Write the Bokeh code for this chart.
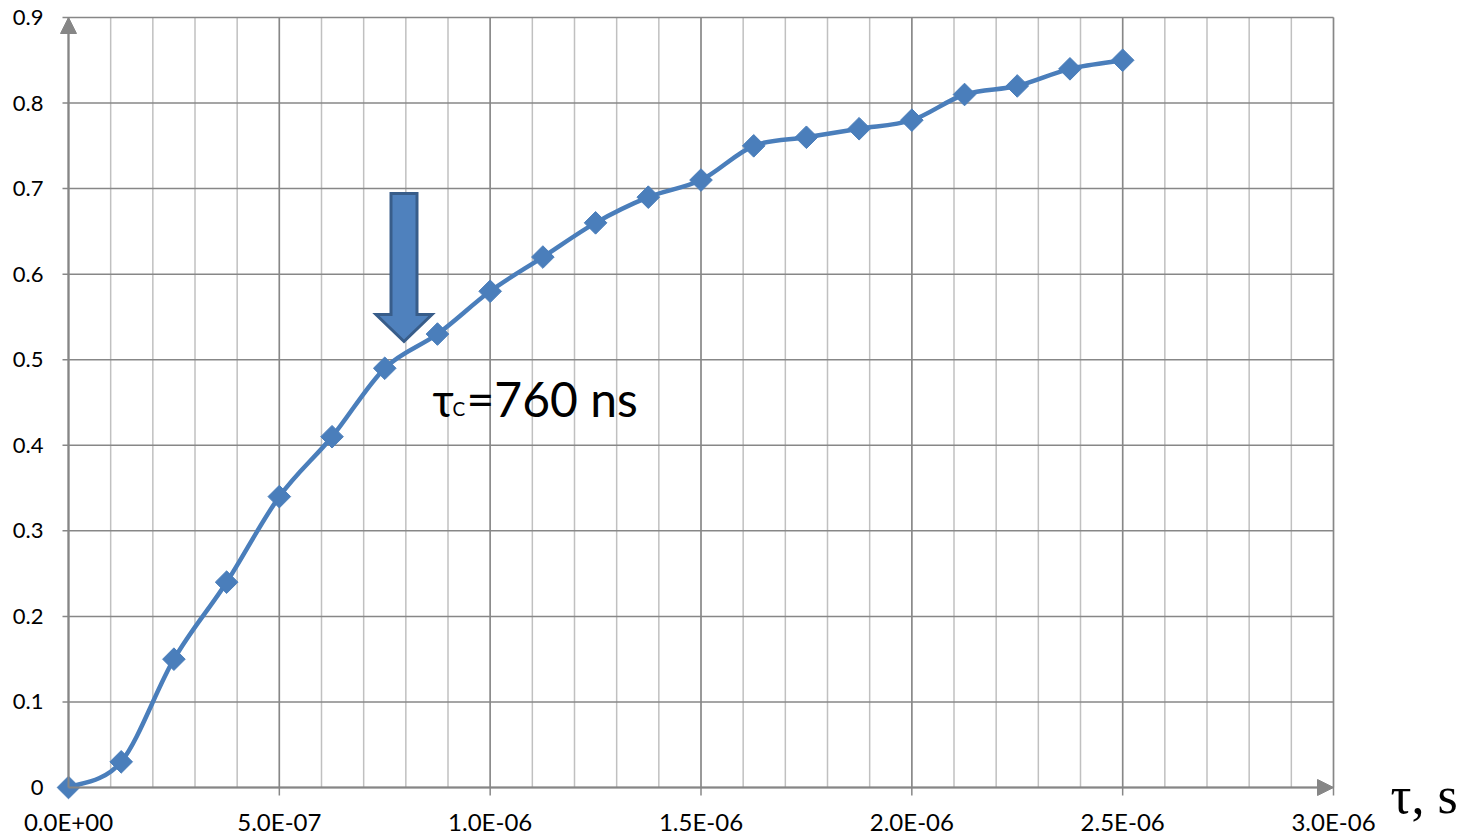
from bokeh.plotting import figure
from bokeh.models import Arrow, NormalHead, Range1d, ColumnDataSource
from bokeh.core.properties import value
from bokeh.embed import file_html
from bokeh.resources import INLINE
import math

# ---- data ----
tau_s = [0.0, 1.25e-7, 2.5e-7, 3.75e-7, 5.0e-7, 6.25e-7, 7.5e-7, 8.75e-7,
         1.0e-6, 1.125e-6, 1.25e-6, 1.375e-6, 1.5e-6, 1.625e-6, 1.75e-6,
         1.875e-6, 2.0e-6, 2.125e-6, 2.25e-6, 2.375e-6, 2.5e-6]
response = [0.0, 0.03, 0.15, 0.24, 0.34, 0.41, 0.49, 0.53, 0.58, 0.62, 0.66,
            0.69, 0.71, 0.75, 0.76, 0.77, 0.78, 0.81, 0.82, 0.84, 0.85]

x_ticks = [0.0, 5.0e-7, 1.0e-6, 1.5e-6, 2.0e-6, 2.5e-6, 3.0e-6]
x_tick_labels = ["0.0E+00", "5.0E-07", "1.0E-06", "1.5E-06", "2.0E-06", "2.5E-06", "3.0E-06"]
y_ticks = [0.0, 0.1, 0.2, 0.3, 0.4, 0.5, 0.6, 0.7, 0.8, 0.9]
y_tick_labels = ["0", "0.1", "0.2", "0.3", "0.4", "0.5", "0.6", "0.7", "0.8", "0.9"]
x_minor_step = 1e-7

tau_c_label = "=760 ns"
x_axis_title = "τ, s"

# ---- geometry / style ----
BLUE = "#4A7EBB"
GRID_MAJOR = "#878787"
GRID_MINOR = "#c0c0c0"
AXIS = "#868686"
W, H = 1475, 835
X_MAX, Y_MAX = 3.0e-6, 0.9
LEFT_PX, BOTTOM_PX, RIGHT_PX, TOP_PX = 68, 787, 1333, 17
PX_X = X_MAX / (RIGHT_PX - LEFT_PX)     # data units per pixel
PX_Y = Y_MAX / (BOTTOM_PX - TOP_PX)
K = 0.355  # text anchor sits at about the cap middle; shift up by K*size for a baseline

p = figure(width=W, height=H, output_backend="svg", toolbar_location=None,
           x_axis_location=None, y_axis_location=None,
           x_range=Range1d(-LEFT_PX * PX_X, (W - LEFT_PX) * PX_X),
           y_range=Range1d(-(H - BOTTOM_PX) * PX_Y, BOTTOM_PX * PX_Y),
           min_border=0)
p.outline_line_color = None
p.background_fill_color = "white"
p.border_fill_color = "white"
p.xgrid.visible = False
p.ygrid.visible = False

# ---- grid (with tick stubs beyond the axes) ----
n_minor = int(round(X_MAX / x_minor_step)) + 1
x_minor = [i * x_minor_step for i in range(n_minor)]
p.segment(x0=x_minor, y0=[0] * n_minor, x1=x_minor, y1=[Y_MAX] * n_minor,
          line_color=GRID_MINOR, line_width=1.5)
p.segment(x0=x_ticks, y0=[-8 * PX_Y] * len(x_ticks), x1=x_ticks, y1=[Y_MAX] * len(x_ticks),
          line_color=GRID_MAJOR, line_width=1.5)
p.segment(x0=[-6 * PX_X] * len(y_ticks), y0=y_ticks, x1=[X_MAX] * len(y_ticks), y1=y_ticks,
          line_color=GRID_MAJOR, line_width=1.5)

# ---- tick labels ----
p.text(x=[0] * len(y_ticks), y=y_ticks, text=y_tick_labels, x_offset=-25, y_offset=0,
       text_align="right", text_baseline="alphabetic", text_font=value("Lato"),
       text_font_size="22px", text_color="black")
p.text(x=x_ticks, y=[0] * len(x_ticks), text=x_tick_labels, y_offset=43 - K * 24,
       text_align="center", text_baseline="alphabetic", text_font=value("Lato"),
       text_font_size="24px", text_color="black")

# ---- axes with arrow heads ----
p.add_layout(Arrow(end=NormalHead(size=16, fill_color=AXIS, line_color=AXIS),
                   x_start=0, y_start=0, x_end=0, y_end=Y_MAX,
                   line_color=AXIS, line_width=2))
p.add_layout(Arrow(end=NormalHead(size=16, fill_color=AXIS, line_color=AXIS),
                   x_start=0, y_start=0, x_end=X_MAX, y_end=0,
                   line_color=AXIS, line_width=2))

# ---- smoothed curve (Catmull-Rom -> cubic Bezier through the data points) ----
n = len(tau_s)
x0s, y0s, x1s, y1s, cx0s, cy0s, cx1s, cy1s = [], [], [], [], [], [], [], []
for i in range(n - 1):
    im1 = max(i - 1, 0)
    ip2 = min(i + 2, n - 1)
    x0s.append(tau_s[i]); y0s.append(response[i])
    x1s.append(tau_s[i + 1]); y1s.append(response[i + 1])
    cx0s.append(tau_s[i] + (tau_s[i + 1] - tau_s[im1]) / 6.0)
    cy0s.append(response[i] + (response[i + 1] - response[im1]) / 6.0)
    cx1s.append(tau_s[i + 1] - (tau_s[ip2] - tau_s[i]) / 6.0)
    cy1s.append(response[i + 1] - (response[ip2] - response[i]) / 6.0)
p.bezier(x0=x0s, y0=y0s, x1=x1s, y1=y1s, cx0=cx0s, cy0=cy0s, cx1=cx1s, cy1=cy1s,
         line_color=BLUE, line_width=4.5, line_cap="round")

src = ColumnDataSource(dict(x=tau_s, y=response))
p.scatter("x", "y", source=src, marker="square", size=16, angle=math.pi / 4,
          fill_color=BLUE, line_color=BLUE)

# ---- block arrow annotation ----
ax_c = (403.5 - LEFT_PX) * PX_X
shaft_hw = 13 * PX_X
head_hw = 28 * PX_X
y_top = (BOTTOM_PX - 193) * PX_Y
y_base = (BOTTOM_PX - 314) * PX_Y
y_tip = (BOTTOM_PX - 341) * PX_Y
p.patch([ax_c - shaft_hw, ax_c + shaft_hw, ax_c + shaft_hw, ax_c + head_hw, ax_c,
         ax_c - head_hw, ax_c - shaft_hw],
        [y_top, y_top, y_base, y_base, y_tip, y_base, y_base],
        fill_color="#4F81BD", line_color="#385D8A", line_width=3, line_join="miter")

# ---- tau_c text (baseline at 415 px) ----
tx = (432 - LEFT_PX) * PX_X
ty = (BOTTOM_PX - 415) * PX_Y
p.text(x=[tx], y=[ty], text=["τ"], y_offset=-K * 46, text_font=value("Lato"),
       text_font_size="46px", text_baseline="alphabetic", text_align="left", text_color="black")
p.text(x=[tx], y=[ty], text=["C"], x_offset=20, y_offset=-K * 19, text_font=value("Lato"),
       text_font_size="19px", text_baseline="alphabetic", text_align="left", text_color="black")
p.text(x=[tx], y=[ty], text=[tau_c_label], x_offset=34, y_offset=-K * 48,
       text_font=value("Lato"), text_font_size="48px", text_baseline="alphabetic",
       text_align="left", text_color="black")

# ---- x-axis title at bottom right (baseline at 813 px) ----
p.text(x=[(1390 - LEFT_PX) * PX_X], y=[(BOTTOM_PX - 813) * PX_Y], text=[x_axis_title],
       y_offset=-K * 52, text_font=value("Liberation Serif"), text_font_size="52px",
       text_baseline="alphabetic", text_align="left", text_color="black")

open("out.html", "w").write(file_html(p, INLINE))
